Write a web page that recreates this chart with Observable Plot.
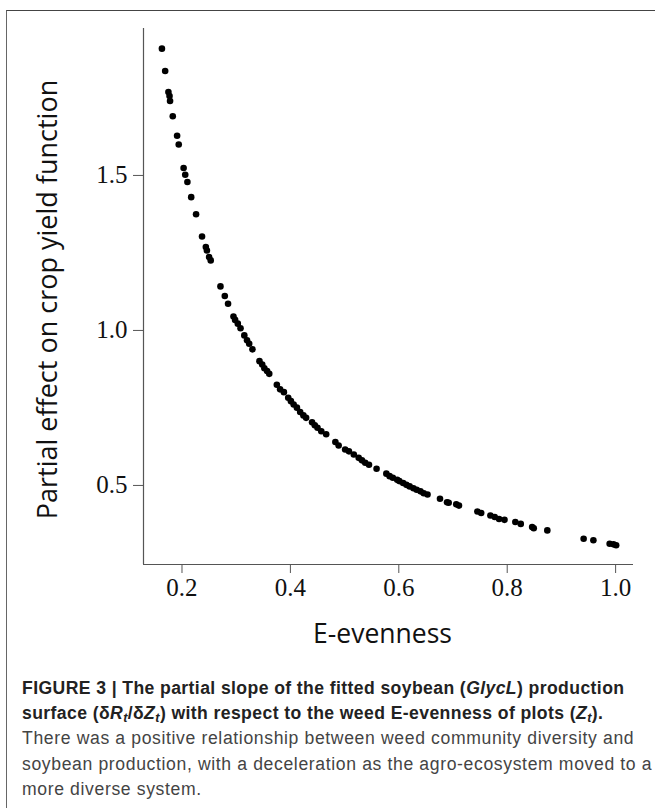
<!DOCTYPE html>
<html>
<head>
<meta charset="utf-8">
<script src="https://cdn.jsdelivr.net/npm/d3@7"></script>
<script src="https://cdn.jsdelivr.net/npm/@observablehq/plot@0.6"></script>
<style>
  html, body { margin: 0; padding: 0; background: #fff; }
  body { width: 655px; height: 808px; position: relative; overflow: hidden; }
  #frame { position: absolute; left: 6px; top: 10px; width: 649px; height: 798px;
           border-top: 1.5px solid #444; border-left: 1.5px solid #666; box-sizing: border-box; }
  #chart { position: absolute; left: 0; top: 0; }
  #chart [aria-label="x-axis tick label"], #chart [aria-label="y-axis tick label"] { fill: #111; }
  #caption { position: absolute; left: 22px; top: 676px; font-family: "Liberation Sans", Arial, sans-serif;
             font-size: 17.6px; line-height: 25.2px; color: #444; white-space: nowrap; letter-spacing: 0.63px; }
  #caption b { color: #222; letter-spacing: 0.4px; }
  #caption sub { font-size: 0.72em; vertical-align: -0.25em; line-height: 0; }
</style>
</head>
<body>
<div id="frame"></div>
<div id="chart"></div>
<div id="caption">
  <b>FIGURE 3 | The partial slope of the fitted soybean (<i>GlycL</i>) production<br>
  surface (δ<i>R</i><sub><i>t</i></sub>/δ<i>Z</i><sub><i>t</i></sub>) with respect to the weed E-evenness of plots (<i>Z</i><sub><i>t</i></sub>).</b><br>
  There was a positive relationship between weed community diversity and<br>
  soybean production, with a deceleration as the agro-ecosystem moved to a<br>
  more diverse system.
</div>
<script>
// E-evenness values (x)
const evenness = [
  0.163, 0.169, 0.175, 0.177, 0.178, 0.183, 0.191, 0.194, 0.203, 0.206,
  0.210, 0.217, 0.226, 0.237, 0.244, 0.246, 0.250, 0.253, 0.271, 0.279,
  0.285, 0.295, 0.298, 0.303, 0.308, 0.315, 0.320, 0.324, 0.330, 0.343,
  0.348, 0.352, 0.357, 0.361, 0.375, 0.381, 0.388, 0.396, 0.401, 0.406,
  0.412, 0.418, 0.424, 0.429, 0.440, 0.445, 0.450, 0.457, 0.466, 0.483,
  0.489, 0.501, 0.508, 0.517, 0.526, 0.532, 0.538, 0.545, 0.559, 0.577,
  0.583, 0.589, 0.597, 0.601, 0.608, 0.614, 0.620, 0.627, 0.633, 0.640,
  0.646, 0.653, 0.676, 0.689, 0.692, 0.706, 0.711, 0.745, 0.752, 0.769,
  0.777, 0.785, 0.795, 0.815, 0.825, 0.846, 0.849, 0.874, 0.941, 0.959,
  0.989, 0.996, 1.001
];
// Partial effect on crop yield function (y)
const partialEffect = [
  1.909, 1.837, 1.769, 1.756, 1.740, 1.691, 1.628, 1.600, 1.524, 1.502,
  1.479, 1.430, 1.375, 1.303, 1.269, 1.258, 1.237, 1.226, 1.142, 1.111,
  1.086, 1.045, 1.034, 1.022, 1.007, 0.984, 0.968, 0.957, 0.939, 0.901,
  0.890, 0.878, 0.869, 0.860, 0.825, 0.810, 0.801, 0.783, 0.772, 0.761,
  0.751, 0.737, 0.726, 0.718, 0.704, 0.694, 0.686, 0.675, 0.665, 0.640,
  0.629, 0.616, 0.610, 0.600, 0.589, 0.581, 0.573, 0.567, 0.554, 0.538,
  0.530, 0.525, 0.518, 0.514, 0.508, 0.502, 0.497, 0.491, 0.486, 0.481,
  0.475, 0.471, 0.457, 0.446, 0.444, 0.439, 0.435, 0.416, 0.411, 0.403,
  0.398, 0.392, 0.389, 0.382, 0.376, 0.366, 0.362, 0.355, 0.328, 0.323,
  0.312, 0.310, 0.307
];
const xTicks = [0.2, 0.4, 0.6, 0.8, 1.0];
const yTicks = [0.5, 1.0, 1.5];
const xDomain = [0.129, 1.033];
const yDomain = [0.245, 1.974];
const xLabel = "E-evenness";
const yLabel = "Partial effect on crop yield function";

const data = evenness.map((e, i) => ({x: e, y: partialEffect[i]}));

const tickFont = {fontSize: 25, fontFamily: "Liberation Serif, Times New Roman, serif"};
const labelFont = {fontSize: 26.5, fontFamily: "Open Sans, sans-serif", fill: "#111"};

const chart = Plot.plot({
  width: 655,
  height: 670,
  marginLeft: 143,
  marginRight: 22,
  marginTop: 28,
  marginBottom: 106,
  style: {background: "transparent", overflow: "visible"},
  x: {domain: xDomain},
  y: {domain: yDomain},
  marks: [
    Plot.axisX({ticks: xTicks, tickFormat: d3.format(".1f"), tickSize: 9, tickPadding: 5,
                stroke: "#555", label: null, ...tickFont}),
    Plot.axisY({ticks: yTicks, tickFormat: d3.format(".1f"), tickSize: 10, tickPadding: 6,
                stroke: "#555", label: null, ...tickFont}),
    Plot.ruleY([yDomain[0]], {stroke: "#555", strokeWidth: 1.2}),
    Plot.ruleX([xDomain[0]], {stroke: "#555", strokeWidth: 1.2}),
    Plot.dot(data, {x: "x", y: "y", r: 3.3, fill: "#000", stroke: "none"}),
    Plot.text([xLabel], {frameAnchor: "bottom", dx: -6, dy: 70, lineAnchor: "middle", ...labelFont}),
    Plot.text([yLabel], {frameAnchor: "left", textAnchor: "middle", dx: -95, dy: 3, rotate: -90,
                         lineAnchor: "middle", fontSize: 27, fontFamily: "Open Sans, sans-serif", fill: "#111"})
  ]
});
document.getElementById("chart").appendChild(chart);
</script>
</body>
</html>
